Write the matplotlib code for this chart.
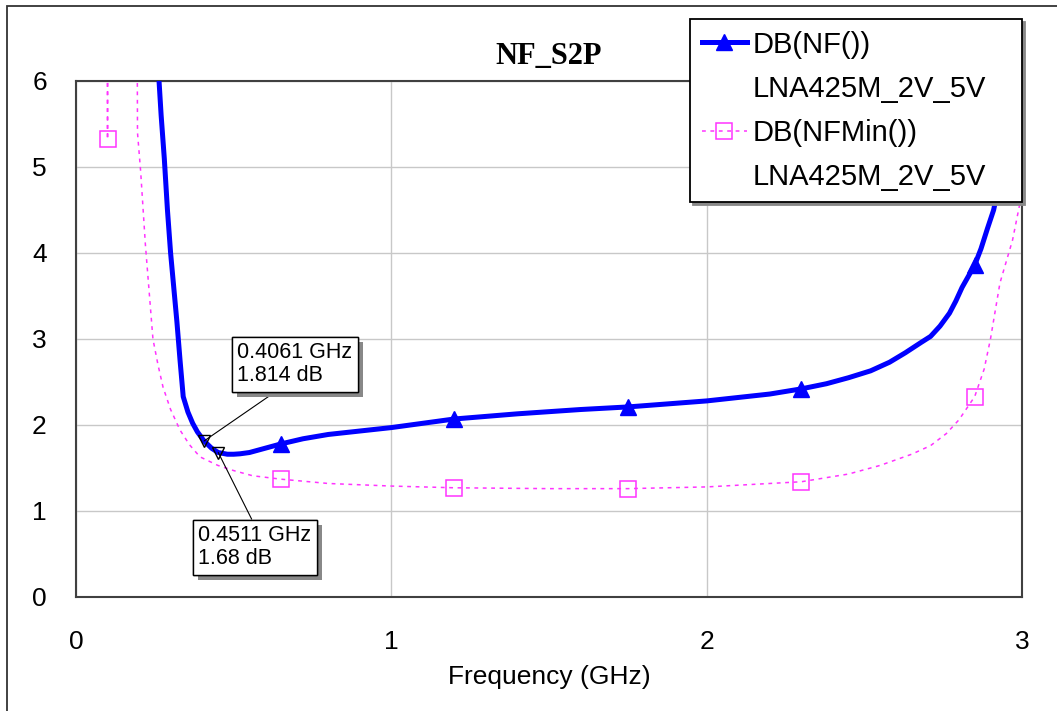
import numpy as np
import matplotlib.pyplot as plt
from matplotlib import patheffects
from matplotlib.patches import Rectangle
from matplotlib.lines import Line2D

# NF data (GHz, dB)
freq_nf = [0.25, 0.26, 0.27, 0.28, 0.29, 0.30, 0.31, 0.32, 0.33, 0.34, 0.355, 0.37,
           0.385, 0.4061, 0.43, 0.4511, 0.48, 0.50, 0.52, 0.55, 0.60, 0.65, 0.72, 0.80,
           0.90, 1.00, 1.10, 1.20, 1.40, 1.60, 1.75, 2.00, 2.20, 2.30, 2.38, 2.45,
           2.52, 2.58, 2.63, 2.68, 2.71, 2.74, 2.77, 2.79, 2.81, 2.83, 2.85, 2.87,
           2.89, 2.91, 2.95, 3.00]
nf_db = [7.3, 6.2, 5.6, 5.1, 4.5, 4.0, 3.6, 3.2, 2.75, 2.33, 2.15, 2.02,
         1.92, 1.814, 1.73, 1.68, 1.66, 1.66, 1.665, 1.68, 1.73, 1.78, 1.84, 1.89,
         1.93, 1.97, 2.02, 2.07, 2.13, 2.18, 2.21, 2.28, 2.36, 2.42, 2.48, 2.55,
         2.63, 2.73, 2.84, 2.96, 3.03, 3.15, 3.30, 3.44, 3.60, 3.73, 3.86, 4.05,
         4.28, 4.50, 5.20, 6.30]

# NFMin data
freq_nfmin = [0.05, 0.10, 0.15, 0.195, 0.205, 0.22, 0.244, 0.26, 0.276, 0.30, 0.33, 0.36,
              0.393, 0.45, 0.50, 0.56, 0.65, 0.80, 1.00, 1.20, 1.50, 1.75, 2.00, 2.30,
              2.45, 2.55, 2.65, 2.71, 2.76, 2.80, 2.85, 2.88, 2.90, 2.93, 2.97, 3.00]
nfmin_db = [60, 5.32, 60, 5.4, 4.95, 4.1, 3.0, 2.7, 2.44, 2.18, 1.94, 1.77,
            1.63, 1.53, 1.47, 1.41, 1.37, 1.32, 1.29, 1.27, 1.26, 1.26, 1.28, 1.34,
            1.43, 1.53, 1.66, 1.76, 1.90, 2.06, 2.33, 2.65, 3.00, 3.65, 4.15, 4.70]

marker_freqs = [0.1, 0.65, 1.2, 1.75, 2.3, 2.85]

# marker readouts
m1 = (0.4061, 1.814)
m2 = (0.4511, 1.68)


def mark_idx(freqs):
    f = np.array(freqs)
    return [i for i in range(len(f)) if np.any(np.isclose(f[i], marker_freqs))]


fig = plt.figure(figsize=(10.57, 7.11), dpi=100)
ax = fig.add_axes([76 / 1057, 1 - 597 / 711, 946 / 1057, 516 / 711])

# outer frame (only top + left edges inside the picture)
fig.add_artist(Rectangle((7 / 1057, -0.1), 1.2, 1.1 - 6 / 711,
                         transform=fig.transFigure, fill=False, lw=1.3,
                         ec='#333333', clip_on=False))

pink = '#ff33ff'
blue = '#0000ff'

nfmin_line, = ax.plot(freq_nfmin, nfmin_db, color=pink, lw=1.1, ls=(0, (2.5, 3)),
                      marker='s', markersize=11, markerfacecolor='none',
                      markeredgecolor=pink, markeredgewidth=1.1,
                      markevery=mark_idx(freq_nfmin), zorder=3)
nf_line, = ax.plot(freq_nf, nf_db, color=blue, lw=3.6, marker='^', markersize=12,
                   markerfacecolor=blue, markeredgecolor=blue,
                   markevery=mark_idx(freq_nf), zorder=4)

# marker readout symbols
ax.plot([m1[0], m2[0]], [m1[1], m2[1]], ls='none', marker='v', markersize=9,
        markerfacecolor='none', markeredgecolor='black', markeredgewidth=1.0, zorder=5)

shadow = [patheffects.withSimplePatchShadow(offset=(4, -4), shadow_rgbFace='#888888', alpha=1.0),
          patheffects.Normal()]

a1 = ax.annotate('0.4061 GHz\n1.814 dB', xy=m1, xytext=(0.511, 2.965),
                 textcoords='data', ha='left', va='top', fontsize=15.5,
                 fontfamily='Liberation Sans', linespacing=1.15,
                 bbox=dict(boxstyle='square,pad=0.25', fc='white', ec='black', lw=1.0),
                 arrowprops=dict(arrowstyle='-', color='black', lw=0.8,
                                 relpos=(0.4, 0.0), shrinkA=0, shrinkB=0),
                 zorder=6)
a2 = ax.annotate('0.4511 GHz\n1.68 dB', xy=m2, xytext=(0.387, 0.837),
                 textcoords='data', ha='left', va='top', fontsize=15.5,
                 fontfamily='Liberation Sans', linespacing=1.15,
                 bbox=dict(boxstyle='square,pad=0.25', fc='white', ec='black', lw=1.0),
                 arrowprops=dict(arrowstyle='-', color='black', lw=0.8,
                                 relpos=(0.5, 1.0), shrinkA=0, shrinkB=0),
                 zorder=6)
for a in (a1, a2):
    a.get_bbox_patch().set_path_effects(shadow)

ax.set_xlim(0, 3)
ax.set_ylim(0, 6)
ax.set_xticks([0, 1, 2, 3])
ax.set_yticks([0, 1, 2, 3, 4, 5, 6])
ax.grid(True, color='#c8c8c8', lw=1.0)
ax.set_axisbelow(True)
ax.tick_params(length=0, labelsize=19)
ax.tick_params(axis='x', pad=24)
ax.tick_params(axis='y', pad=21)
for lab in ax.get_xticklabels() + ax.get_yticklabels():
    lab.set_fontfamily('Liberation Sans')
for sp in ax.spines.values():
    sp.set_color('#404040')
    sp.set_linewidth(1.5)

ax.set_xlabel('Frequency (GHz)', fontsize=19, fontfamily='Liberation Sans', labelpad=8)
ax.set_title('NF_S2P', fontsize=22, fontweight='bold', fontfamily='Liberation Serif', pad=12)

blank = Line2D([], [], alpha=0)
leg = ax.legend([nf_line, blank, nfmin_line, blank],
                ['DB(NF())', 'LNA425M_2V_5V', 'DB(NFMin())', 'LNA425M_2V_5V'],
                loc='upper left', mode='expand',
                bbox_to_anchor=((690 - 76) / 946, (597 - 19) / 516, (1022 - 690) / 946, 0),
                borderaxespad=0, fancybox=False, framealpha=1, edgecolor='black',
                shadow={'color': '#888888', 'alpha': 1.0},
                prop={'family': 'Liberation Sans', 'size': 21},
                handlelength=1.55, handletextpad=0.2, labelspacing=0.55,
                borderpad=0.4, markerscale=1.0)
leg.get_frame().set_linewidth(1.3)
leg.set_zorder(10)

fig.savefig('out.png', dpi=100)
